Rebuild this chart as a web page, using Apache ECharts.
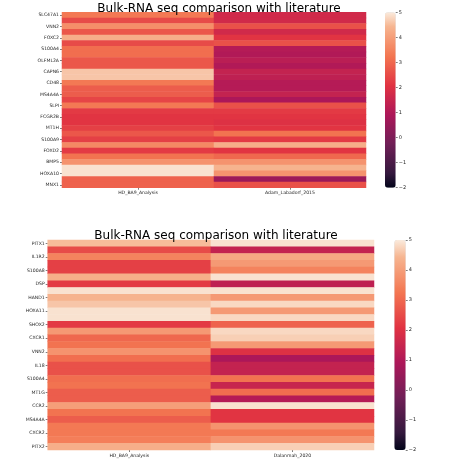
<!DOCTYPE html>
<html>
<head>
<meta charset="utf-8">
<script src="https://cdn.jsdelivr.net/npm/echarts@6/dist/echarts.min.js"></script>
<style>html,body{margin:0;padding:0;background:#fff;}#c{width:474px;height:474px;}</style>
</head>
<body>
<div id="c"></div>
<script>
// ---- data ----
var titleText = 'Bulk-RNA seq comparison with literature';
var colsTop = ['HD_BA9_Analysis', 'Adam_Labadorf_2015'];
var genesTop = ['SLC47A1','','VNN2','','FOXC2','','S100A4','','OLFML2A','','CAPN6','','CD48','','MS4A4A','','SLPI','','FCGR2B','','MT1H','','S100A9','','FOXD2','','BMP5','','HOXA10','','MNX1'];
var topHD = [3.3,2.5,3.7,2.7,4.3,2.5,3.1,3.1,2.7,2.7,4.6,4.6,3.3,2.8,2.8,2.4,3.3,2.2,2.1,2.1,2.3,2.7,2.3,3.6,2.2,3.2,3.8,4.9,4.9,2.9,2.9];
var topLit = [1.7,1.7,2.6,1.7,2.1,2.6,1.1,1.0,1.2,1.0,1.4,1.3,1.1,1.1,1.4,0.9,2.6,2.2,2.1,2.0,2.1,3.2,2.2,4.3,2.1,3.0,3.8,4.4,3.8,0.6,2.6];

var colsBot = ['HD_BA9_Analysis', 'Dalanmah_2020'];
var genesBot = ['PITX1','','IL1R2','','S100A8','','DSP','','HAND1','','HOXA11','','SHOX2','','CXCR1','','VNN2','','IL18','','S100A4','','MT1G','','CCR2','','MS4A4A','','CXCR2','','PITX2'];
var botHD = [4.5,2.5,3.5,2.3,2.3,4.3,2.2,4.9,4.4,4.6,4.9,4.9,2.2,3.9,3.0,3.2,3.8,3.1,2.6,2.6,3.1,3.2,2.8,2.8,4.0,3.2,2.8,3.3,3.3,3.4,4.3];
var botLit = [4.9,1.4,4.2,3.9,3.5,4.9,1.3,4.9,3.9,4.8,3.9,4.8,2.9,4.8,4.7,3.9,2.0,0.9,1.4,1.4,3.2,1.5,3.1,1.1,4.9,2.1,2.1,3.8,3.3,3.8,4.7];

var vMin = -2, vMax = 5;

// ---- build ----
function cells(a, b) {
  var d = [];
  for (var i = 0; i < a.length; i++) { d.push([0, i, a[i]]); d.push([1, i, b[i]]); }
  return d;
}
var rocket = ['#03051a','#35193e','#521c4a','#701f57','#8e1b58','#ad1759','#c7254e','#e13342','#ea554a','#f37651','#f59570','#f6b48f','#faebdd'];
var FONT = 'DejaVu Sans';
var txt = '#262626';

function catX(gi, data) {
  return { type: 'category', gridIndex: gi, data: data, position: 'bottom',
    axisLine: { show: false }, axisTick: { show: true, length: 2, alignWithLabel: true, lineStyle: { color: txt, width: 0.6 } },
    axisLabel: { fontSize: 4.6, color: txt, fontFamily: FONT, margin: 3 }, splitLine: { show: false } };
}
function catY(gi, data) {
  return { type: 'category', gridIndex: gi, data: data, inverse: true,
    axisLine: { show: false },
    axisTick: { show: true, length: 2, interval: 1, alignWithLabel: true, lineStyle: { color: txt, width: 0.6 } },
    axisLabel: { fontSize: 4.6, color: txt, fontFamily: FONT, margin: 3, interval: 1 }, splitLine: { show: false } };
}
function cbX(gi) { return { type: 'category', gridIndex: gi, data: [''], show: false }; }
function cbY(gi) {
  return { type: 'value', gridIndex: gi, min: vMin, max: vMax, interval: 1, position: 'right',
    axisLine: { show: false }, axisTick: { show: true, length: 2, lineStyle: { color: txt, width: 0.6 } },
    axisLabel: { fontSize: 5, color: txt, fontFamily: FONT, margin: 3, formatter: function (v) { return String(v).replace('-', '\u2212'); } },
    splitLine: { show: false } };
}

var G = [
  { left: 62, top: 12.3, width: 304, height: 175.4 },
  { left: 47.7, top: 240, width: 326.3, height: 210 },
  { left: 385, top: 12.3, width: 10.7, height: 175.4 },
  { left: 394.3, top: 240, width: 11.4, height: 210 }
];

var option = {
  backgroundColor: '#fff',
  animation: false,
  title: [
    { text: titleText, left: 214, top: -2, textAlign: 'center', textStyle: { fontSize: 12, fontWeight: 'normal', color: '#000', fontFamily: FONT } },
    { text: titleText, left: 211, top: 225, textAlign: 'center', textStyle: { fontSize: 12, fontWeight: 'normal', color: '#000', fontFamily: FONT } }
  ],
  grid: G.map(function (g) { return Object.assign({ containLabel: false }, g); }),
  xAxis: [catX(0, colsTop), catX(1, colsBot), cbX(2), cbX(3)],
  yAxis: [catY(0, genesTop), catY(1, genesBot), cbY(2), cbY(3)],
  visualMap: [
    { type: 'continuous', min: vMin, max: vMax, seriesIndex: 0, calculable: false, inRange: { color: rocket },
      left: G[2].left, top: G[2].top, itemWidth: G[2].width, itemHeight: G[2].height, padding: 0, text: null, hoverLink: false },
    { type: 'continuous', min: vMin, max: vMax, seriesIndex: 1, calculable: false, inRange: { color: rocket },
      left: G[3].left, top: G[3].top, itemWidth: G[3].width, itemHeight: G[3].height, padding: 0, text: null, hoverLink: false }
  ],
  series: [
    { type: 'heatmap', xAxisIndex: 0, yAxisIndex: 0, data: cells(topHD, topLit), itemStyle: { borderWidth: 0 } },
    { type: 'heatmap', xAxisIndex: 1, yAxisIndex: 1, data: cells(botHD, botLit), itemStyle: { borderWidth: 0 } }
  ]
};
var chart = echarts.init(document.getElementById('c'), null, { renderer: 'canvas' });
chart.setOption(option);
</script>
</body>
</html>
